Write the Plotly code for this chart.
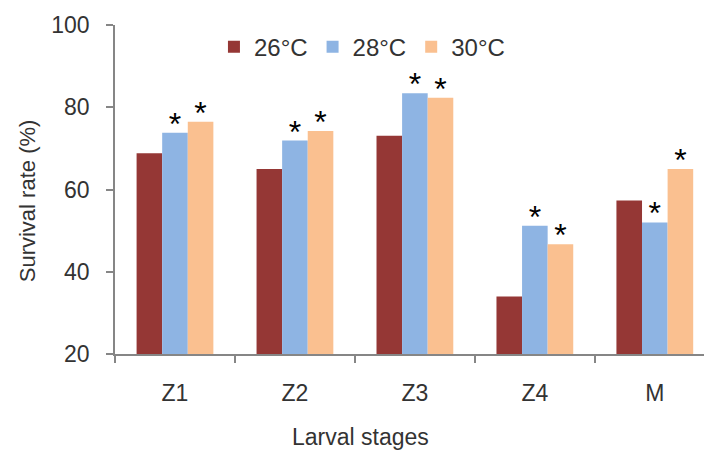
import plotly.graph_objects as go

stages = ["Z1", "Z2", "Z3", "Z4", "M"]
temps = ["26°C", "28°C", "30°C"]
survival_26 = [68.8, 65.0, 73.1, 34.0, 57.3]
survival_28 = [73.8, 71.9, 83.4, 51.2, 52.0]
survival_30 = [76.5, 74.2, 82.3, 46.7, 65.0]
sig_26 = ["", "", "", "", ""]
sig_28 = ["*", "*", "*", "*", "*"]
sig_30 = ["*", "*", "*", "*", "*"]
colors = ["#953735", "#8EB4E3", "#FAC090"]

FONT = "Liberation Sans, Arial, sans-serif"
TXT = "#333333"
GAP = 0.36
Y_RANGE = [20, 100]
STAR_LIFT = 1.45  # axis offset that lifts the asterisk row slightly above bar tops

fig = go.Figure()
series = list(zip(temps, [survival_26, survival_28, survival_30],
                  [sig_26, sig_28, sig_30], colors))
for name, vals, sig, col in series:
    fig.add_trace(go.Bar(
        x=stages, y=vals, name=name, marker=dict(color=col, line=dict(width=0)),
        offsetgroup=name, alignmentgroup="g",
    ))
for name, vals, sig, col in series:
    fig.add_trace(go.Scatter(
        x=stages, y=vals, mode="text", text=sig, textposition="middle center",
        textfont=dict(family=FONT, size=32, color="#000000"),
        offsetgroup=name, alignmentgroup="g", orientation="v", yaxis="y2",
        showlegend=False, hoverinfo="skip", cliponaxis=False,
    ))

fig.update_layout(
    width=704, height=452,
    margin=dict(l=115, r=0, t=25, b=98),
    paper_bgcolor="white", plot_bgcolor="white",
    barmode="group", bargap=GAP, bargroupgap=0,
    scattermode="group", scattergap=GAP,
    font=dict(family=FONT, color=TXT),
    showlegend=True,
    legend=dict(orientation="h", x=0.168, y=0.933, xanchor="left", yanchor="middle",
                font=dict(family=FONT, size=24, color=TXT), bgcolor="rgba(0,0,0,0)",
                itemwidth=30, tracegroupgap=0),
    xaxis=dict(range=[-0.5, 4.41], showgrid=False, showline=True, linecolor="#868686",
               linewidth=1.5, ticks="outside", tickson="boundaries", ticklen=7,
               tickcolor="#868686", tickwidth=1.5,
               tickfont=dict(family=FONT, size=23, color=TXT), ticklabelstandoff=18),
    yaxis=dict(range=Y_RANGE, tickvals=[20, 40, 60, 80, 100], showgrid=False,
               showline=True, linecolor="#868686", linewidth=1.5, ticks="outside",
               ticklen=7, tickcolor="#868686", tickwidth=1.5, zeroline=False,
               tickfont=dict(family=FONT, size=23, color=TXT), ticklabelstandoff=12),
    yaxis2=dict(range=[Y_RANGE[0] - STAR_LIFT, Y_RANGE[1] - STAR_LIFT], overlaying="y",
                visible=False, showgrid=False, zeroline=False),
    annotations=[
        dict(text="Survival rate (%)", textangle=-90, xref="paper", yref="paper",
             x=-0.149, y=0.465, xanchor="center", yanchor="middle", showarrow=False,
             font=dict(family=FONT, size=22, color=TXT)),
        dict(text="Larval stages", xref="paper", yref="paper",
             x=0.416, y=-0.252, xanchor="center", yanchor="middle", showarrow=False,
             font=dict(family=FONT, size=23, color=TXT)),
    ],
)

fig.write_html("out.html", config={"displayModeBar": False},
               post_script="document.body.style.margin='0';document.body.style.overflow='hidden';")
